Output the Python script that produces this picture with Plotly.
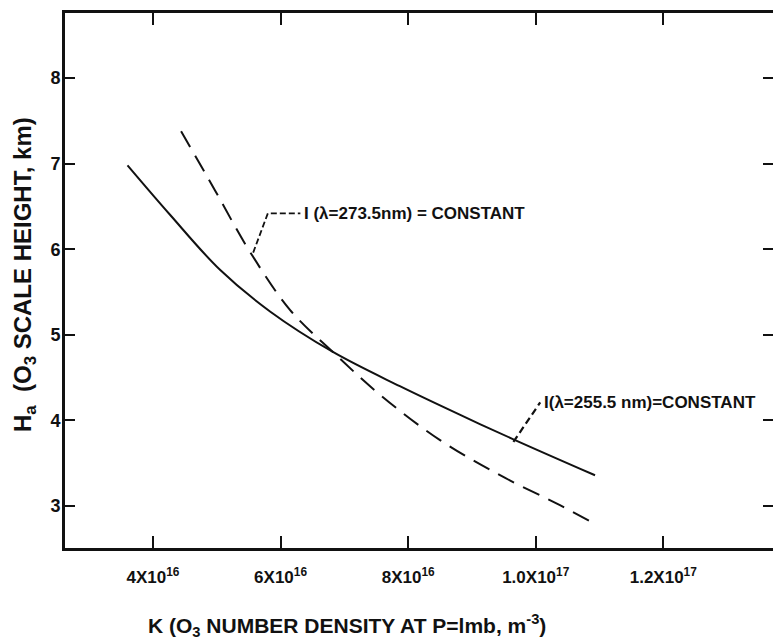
import plotly.graph_objects as go

# ---- data ----
solid_x = [3.60e16, 4.27e16, 5.05e16, 5.84e16, 6.82e16, 7.87e16, 8.80e16, 9.65e16, 10.93e16]
solid_y = [6.98, 6.40, 5.76, 5.27, 4.80, 4.40, 4.07, 3.78, 3.36]

dash_x = [4.44e16, 4.97e16, 5.52e16, 6.15e16, 6.82e16, 7.56e16, 8.50e16, 9.44e16, 10.38e16, 10.96e16]
dash_y = [7.38, 6.69, 5.97, 5.29, 4.80, 4.30, 3.77, 3.36, 3.01, 2.78]

x_tickvals = [4e16, 6e16, 8e16, 1.0e17, 1.2e17]
x_ticktext = ["4X10<sup>16</sup>", "6X10<sup>16</sup>", "8X10<sup>16</sup>",
              "1.0X10<sup>17</sup>", "1.2X10<sup>17</sup>"]
y_tickvals = [3, 4, 5, 6, 7, 8]

label_273 = "I (λ=273.5nm) = CONSTANT"
label_255 = "I(λ=255.5 nm)=CONSTANT"
leader_273_x = [5.57e16, 5.80e16, 6.31e16]
leader_273_y = [5.96, 6.42, 6.42]
leader_255_x = [9.65e16, 10.07e16]
leader_255_y = [3.75, 4.21]

X_RANGE = [2.62e16, 1.372e17]
Y_RANGE = [2.51, 8.76]

FONT = "Liberation Sans"
INK = "#111111"

fig = go.Figure()
fig.add_trace(go.Scatter(x=solid_x, y=solid_y, mode="lines",
                         line=dict(color=INK, width=2, shape="spline", smoothing=1.0),
                         showlegend=False, hoverinfo="skip"))
fig.add_trace(go.Scatter(x=dash_x, y=dash_y, mode="lines",
                         line=dict(color=INK, width=2, shape="spline", smoothing=1.0,
                                   dash="18px,10px"),
                         showlegend=False, hoverinfo="skip"))
fig.add_trace(go.Scatter(x=leader_273_x, y=leader_273_y, mode="lines",
                         line=dict(color=INK, width=1.8, dash="6px,3px"),
                         showlegend=False, hoverinfo="skip"))
fig.add_trace(go.Scatter(x=leader_255_x, y=leader_255_y, mode="lines",
                         line=dict(color=INK, width=2.2, dash="7px,4px"),
                         showlegend=False, hoverinfo="skip"))
# invisible trace to anchor the right-hand tick axis
fig.add_trace(go.Scatter(x=[solid_x[0]], y=[solid_y[0]], yaxis="y2", mode="markers",
                         marker=dict(opacity=0), showlegend=False, hoverinfo="skip"))

fig.add_annotation(x=leader_273_x[-1], y=leader_273_y[-1], text="<b>" + label_273 + "</b>",
                   showarrow=False, xanchor="left", yanchor="middle", xshift=2,
                   font=dict(family=FONT, size=17, color=INK))
fig.add_annotation(x=leader_255_x[-1], y=leader_255_y[-1], text="<b>" + label_255 + "</b>",
                   showarrow=False, xanchor="left", yanchor="middle", xshift=2,
                   font=dict(family=FONT, size=17, color=INK))

# axis titles placed as annotations
fig.add_annotation(xref="paper", yref="paper", x=0.398, y=-0.144,
                   text="<b>K (O<sub>3</sub> NUMBER DENSITY AT P=lmb, m<sup>-3</sup>)</b>",
                   showarrow=False, xanchor="center", yanchor="middle",
                   font=dict(family=FONT, size=21, color=INK))
fig.add_annotation(xref="paper", yref="paper", x=-0.058, y=0.512,
                   text="<b>H<sub>a</sub>  (O<sub>3</sub> SCALE HEIGHT, km)</b>",
                   showarrow=False, xanchor="center", yanchor="middle", textangle=-90,
                   font=dict(family=FONT, size=24, color=INK))

fig.update_layout(
    width=773, height=644,
    margin=dict(l=65, r=0, t=13, b=96),
    paper_bgcolor="white", plot_bgcolor="white",
    font=dict(family=FONT, color=INK),
    xaxis=dict(range=X_RANGE, tickvals=x_tickvals, ticktext=x_ticktext,
               ticks="inside", ticklen=12, tickwidth=2, tickcolor=INK,
               showline=True, linewidth=3, linecolor=INK, mirror="ticks",
               showgrid=False, zeroline=False, ticklabelstandoff=12,
               tickfont=dict(family=FONT, size=17, color=INK, weight="bold")),
    yaxis=dict(range=Y_RANGE, tickvals=y_tickvals,
               ticks="inside", ticklen=10, tickwidth=2, tickcolor=INK,
               showline=True, linewidth=3, linecolor=INK, mirror=False,
               showgrid=False, zeroline=False, ticklabelstandoff=-2,
               tickfont=dict(family=FONT, size=18, color=INK, weight="bold")),
    yaxis2=dict(overlaying="y", side="right", range=Y_RANGE, tickvals=y_tickvals,
                ticks="inside", ticklen=10, tickwidth=2, tickcolor=INK,
                showticklabels=False, showline=False, showgrid=False, zeroline=False),
)

fig.write_html("out.html")
